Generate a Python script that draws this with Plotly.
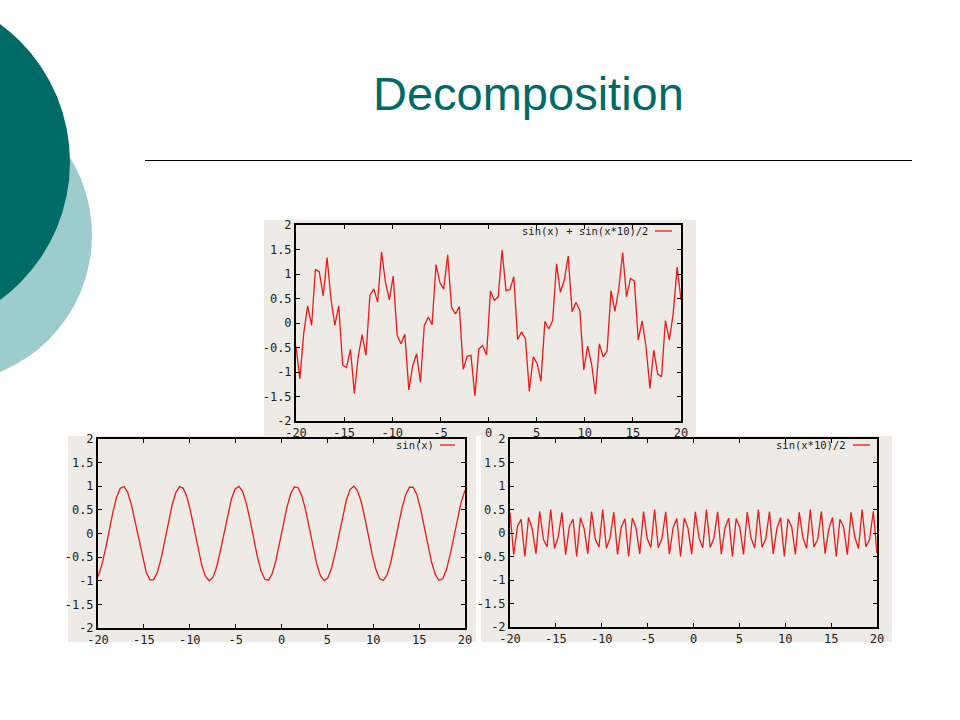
import plotly.graph_objects as go

# ---------------- data (100 samples from -20 to 20) ----------------
x_vals = [-20.00, -19.60, -19.19, -18.79, -18.38, -17.98, -17.58, -17.17, -16.77, -16.36,
          -15.96, -15.56, -15.15, -14.75, -14.34, -13.94, -13.54, -13.13, -12.73, -12.32,
          -11.92, -11.52, -11.11, -10.71, -10.30, -9.90, -9.49, -9.09, -8.69, -8.28,
          -7.88, -7.47, -7.07, -6.67, -6.26, -5.86, -5.45, -5.05, -4.65, -4.24,
          -3.84, -3.43, -3.03, -2.63, -2.22, -1.82, -1.41, -1.01, -0.61, -0.20,
          0.20, 0.61, 1.01, 1.41, 1.82, 2.22, 2.63, 3.03, 3.43, 3.84,
          4.24, 4.65, 5.05, 5.45, 5.86, 6.26, 6.67, 7.07, 7.47, 7.88,
          8.28, 8.69, 9.09, 9.49, 9.90, 10.30, 10.71, 11.11, 11.52, 11.92,
          12.32, 12.73, 13.13, 13.54, 13.94, 14.34, 14.75, 15.15, 15.56, 15.96,
          16.36, 16.77, 17.17, 17.58, 17.98, 18.38, 18.79, 19.19, 19.60, 20.00]

sum_vals = [-0.4762, -1.1415, -0.1965, 0.3509, -0.0501, 1.0966, 1.0416, 0.5556, 1.3330, 0.4746,
            -0.0437, 0.3477, -0.8574, -0.9091, -0.5381, -1.4397, -0.6933, -0.2393, -0.6598, 0.5667,
            0.6966, 0.4253, 1.4508, 0.8318, 0.4701, 0.9564, -0.2527, -0.4256, -0.2280, -1.3651,
            -0.8769, -0.6261, -1.2085, -0.0547, 0.1226, -0.0346, 1.1910, 0.8247, 0.6915, 1.3916,
            0.3256, 0.1824, 0.3375, -0.9450, -0.6807, -0.6600, -1.4878, -0.5340, -0.4592, -0.6510,
            0.6510, 0.4592, 0.5340, 1.4878, 0.6600, 0.6807, 0.9450, -0.3375, -0.1824, -0.3256,
            -1.3916, -0.6915, -0.8247, -1.1910, 0.0346, -0.1226, 0.0547, 1.2085, 0.6261, 0.8769,
            1.3651, 0.2280, 0.4256, 0.2527, -0.9564, -0.4701, -0.8318, -1.4508, -0.4253, -0.6966,
            -0.5667, 0.6598, 0.2393, 0.6933, 1.4397, 0.5381, 0.9091, 0.8574, -0.3477, 0.0437,
            -0.4746, -1.3330, -0.5556, -1.0416, -1.0966, 0.0501, -0.3509, 0.1965, 1.1415, 0.4762]

sin_vals = [-0.9129, -0.6790, -0.3357, 0.0617, 0.4491, 0.7642, 0.9562, 0.9943, 0.8722, 0.6097,
            0.2490, -0.1518, -0.5282, -0.8195, -0.9788, -0.9805, -0.8243, -0.5354, -0.1602, 0.2407,
            0.6029, 0.8680, 0.9933, 0.9587, 0.7696, 0.4566, 0.0701, -0.3277, -0.6727, -0.9094,
            -0.9997, -0.9290, -0.7086, -0.3742, 0.0205, 0.4120, 0.7370, 0.9434, 0.9978, 0.8916,
            0.6418, 0.2886, -0.1110, -0.4928, -0.7952, -0.9696, -0.9878, -0.8469, -0.5696, -0.2007,
            0.2007, 0.5696, 0.8469, 0.9878, 0.9696, 0.7952, 0.4928, 0.1110, -0.2886, -0.6418,
            -0.8916, -0.9978, -0.9434, -0.7370, -0.4120, -0.0205, 0.3742, 0.7086, 0.9290, 0.9997,
            0.9094, 0.6727, 0.3277, -0.0701, -0.4566, -0.7696, -0.9587, -0.9933, -0.8680, -0.6029,
            -0.2407, 0.1602, 0.5354, 0.8243, 0.9805, 0.9788, 0.8195, 0.5282, 0.1518, -0.2490,
            -0.6097, -0.8722, -0.9943, -0.9562, -0.7642, -0.4491, -0.0617, 0.3357, 0.6790, 0.9129]

sin10_vals = [0.4367, -0.4625, 0.1392, 0.2892, -0.4992, 0.3324, 0.0854, -0.4387, 0.4608, -0.1351,
              -0.2927, 0.4995, -0.3292, -0.0896, 0.4407, -0.4592, 0.1310, 0.2961, -0.4996, 0.3260,
              0.0937, -0.4427, 0.4575, -0.1269, -0.2995, 0.4998, -0.3228, -0.0979, 0.4447, -0.4557,
              0.1228, 0.3029, -0.4999, 0.3195, 0.1021, -0.4466, 0.4540, -0.1187, -0.3063, 0.5000,
              -0.3162, -0.1062, 0.4485, -0.4522, 0.1145, 0.3096, -0.5000, 0.3129, 0.1104, -0.4503,
              0.4503, -0.1104, -0.3129, 0.5000, -0.3096, -0.1145, 0.4522, -0.4485, 0.1062, 0.3162,
              -0.5000, 0.3063, 0.1187, -0.4540, 0.4466, -0.1021, -0.3195, 0.4999, -0.3029, -0.1228,
              0.4557, -0.4447, 0.0979, 0.3228, -0.4998, 0.2995, 0.1269, -0.4575, 0.4427, -0.0937,
              -0.3260, 0.4996, -0.2961, -0.1310, 0.4592, -0.4407, 0.0896, 0.3292, -0.4995, 0.2927,
              0.1351, -0.4608, 0.4387, -0.0854, -0.3324, 0.4992, -0.2892, -0.1392, 0.4625, -0.4367]

x_tick_vals = [-20, -15, -10, -5, 0, 5, 10, 15, 20]
x_tick_text = ["-20", "-15", "-10", "-5", "0", "5", "10", "15", "20"]
y_tick_vals = [-2, -1.5, -1, -0.5, 0, 0.5, 1, 1.5, 2]
y_tick_text = ["-2", "-1.5", "-1", "-0.5", "0", "0.5", "1", "1.5", "2"]

series_names = ["sin(x) + sin(x*10)/2", "sin(x)", "sin(x*10)/2"]
slide_title = "Decomposition"

# ---------------- layout helpers ----------------
W, H = 960, 720
def px(x):
    return x / W
def py(y):
    return 1 - y / H

BEIGE = "#EEEBE6"
RED = "#F01818"
TEAL_DARK = "#006A66"
TEAL_LIGHT = "#9CCCCC"
TICK_FONT = dict(family="DejaVu Sans Mono", size=12, color="#222222")
LEG_FONT = dict(family="DejaVu Sans Mono", size=10.5, color="#222222")

fig = go.Figure()
series = [sum_vals, sin_vals, sin10_vals]
for k, vals in enumerate(series):
    suffix = "" if k == 0 else str(k + 1)
    fig.add_trace(go.Scatter(x=x_vals, y=vals, mode="lines", name=series_names[k],
                             line=dict(color=RED, width=1.3),
                             xaxis="x" + suffix, yaxis="y" + suffix, showlegend=False,
                             hoverinfo="skip"))

# plot frames (left, right, top, bottom in px)
frames = [(296, 681, 225, 421), (98, 465, 439, 628), (510, 877, 439, 627)]
axis_common = dict(showline=True, mirror="ticks", linecolor="black", linewidth=2,
                   ticks="inside", ticklen=4, tickwidth=1.3, tickcolor="black",
                   showgrid=False, zeroline=False, tickfont=TICK_FONT, fixedrange=True,
                   automargin=False)
layout_axes = {}
for k, (l, r, t, b) in enumerate(frames):
    suffix = "" if k == 0 else str(k + 1)
    layout_axes["xaxis" + suffix] = dict(domain=[px(l), px(r)], range=[-20, 20],
                                         anchor="y" + suffix, tickvals=x_tick_vals,
                                         ticktext=x_tick_text, **axis_common)
    layout_axes["yaxis" + suffix] = dict(domain=[py(b), py(t)], range=[-2, 2],
                                         anchor="x" + suffix, tickvals=y_tick_vals,
                                         ticktext=y_tick_text, **axis_common)

shapes = [
    # decorative circles
    dict(type="circle", xref="paper", yref="paper", x0=px(-204), x1=px(92), y0=py(87), y1=py(383),
         fillcolor=TEAL_LIGHT, line=dict(width=0), layer="below"),
    dict(type="circle", xref="paper", yref="paper", x0=px(-272), x1=px(70), y0=py(-9), y1=py(333),
         fillcolor=TEAL_DARK, line=dict(width=0), layer="below"),
]
# beige image backgrounds
for (x0, x1, y0, y1) in [(264, 696, 220, 436), (68, 476, 436, 642), (481, 892, 436, 642)]:
    shapes.append(dict(type="rect", xref="paper", yref="paper", x0=px(x0), x1=px(x1),
                       y0=py(y1), y1=py(y0), fillcolor=BEIGE, line=dict(width=0), layer="below"))
# title rule
shapes.append(dict(type="line", xref="paper", yref="paper", x0=px(145), x1=px(912),
                   y0=py(160.5), y1=py(160.5), line=dict(color="black", width=1)))

annotations = [dict(text=slide_title, xref="paper", yref="paper", x=px(528), y=py(94),
                    xanchor="center", yanchor="middle", showarrow=False,
                    font=dict(family="Liberation Sans, Arial", size=47, color=TEAL_DARK))]

# gnuplot-style keys: text then line sample
keys = [(650, 655, 672, 231), (436, 440, 455, 445), (848, 853, 870, 445)]
for k, (tx, lx0, lx1, ky) in enumerate(keys):
    annotations.append(dict(text=series_names[k], xref="paper", yref="paper", x=px(tx), y=py(ky),
                            xanchor="right", yanchor="middle", showarrow=False, font=LEG_FONT))
    shapes.append(dict(type="line", xref="paper", yref="paper", x0=px(lx0), x1=px(lx1),
                       y0=py(ky), y1=py(ky), line=dict(color=RED, width=1.3)))

fig.update_layout(template="none", width=W, height=H, margin=dict(l=0, r=0, t=0, b=0, pad=0),
                  autosize=False,
                  paper_bgcolor="white", plot_bgcolor=BEIGE, showlegend=False,
                  shapes=shapes, annotations=annotations, **layout_axes)

page_fix = (
    "var de=document.documentElement, b=document.body;"
    "[de,b].forEach(function(e){e.style.margin='0';e.style.padding='0';"
    "e.style.overflow='hidden';});"
    "window.scrollTo(0,0);"
)
fig.write_html("out.html", config={"displayModeBar": False}, post_script=page_fix)
